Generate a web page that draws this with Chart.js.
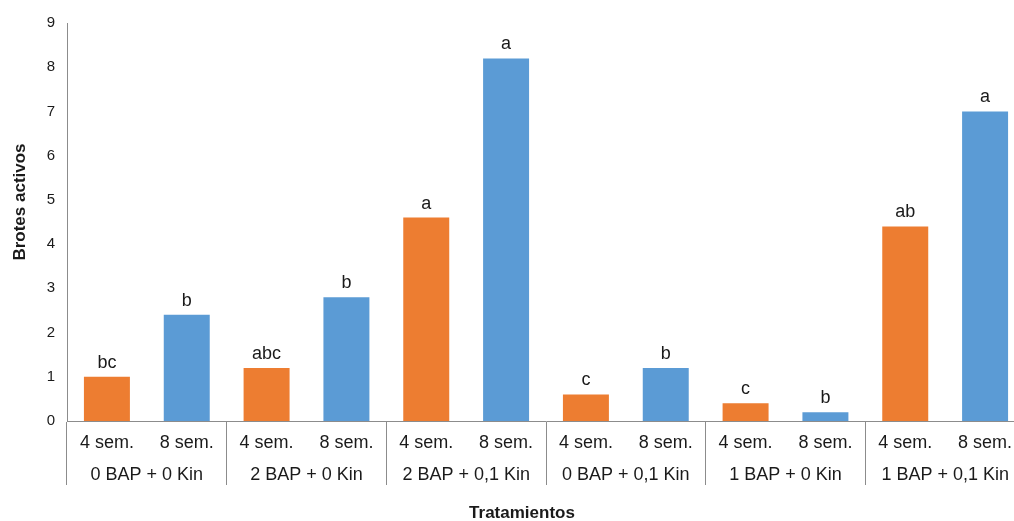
<!DOCTYPE html>
<html>
<head>
<meta charset="utf-8">
<script src="https://cdn.jsdelivr.net/npm/chart.js@4/dist/chart.umd.min.js"></script>
<style>
  html, body { margin: 0; padding: 0; background: #fff; overflow: hidden; }
  #wrap { width: 1026px; height: 521px; }
</style>
</head>
<body>
<div id="wrap"><canvas id="c" width="1026" height="521"></canvas></div>
<script>
// Tratamientos (mg/L de BAP y Kinetina)
const treatments = ['0 BAP + 0 Kin', '2 BAP + 0 Kin', '2 BAP + 0,1 Kin', '0 BAP + 0,1 Kin', '1 BAP + 0 Kin', '1 BAP + 0,1 Kin'];
const periods = ['4 sem.', '8 sem.'];

// Brotes activos promedio
const shoots4 = [1.0, 1.2, 4.6, 0.6, 0.4, 4.4];
const shoots8 = [2.4, 2.8, 8.2, 1.2, 0.2, 7.0];

// Letras de separación de medias
const letters4 = ['bc', 'abc', 'a', 'c', 'c', 'ab'];
const letters8 = ['b', 'b', 'a', 'b', 'b', 'a'];

const yTicks = [0, 1, 2, 3, 4, 5, 6, 7, 8, 9];

const FONT = '"Liberation Sans", Arial, sans-serif';
const TEXT = '#1a1a1a';
const AXIS = '#8c8c8c';

const annotate = {
  id: 'annotate',
  afterDatasetsDraw(chart) {
    const ctx = chart.ctx;
    const area = chart.chartArea;
    const letterSets = [letters4, letters8];
    ctx.save();
    // letters above each bar
    ctx.font = '18px ' + FONT;
    ctx.fillStyle = TEXT;
    ctx.textAlign = 'center';
    ctx.textBaseline = 'alphabetic';
    chart.data.datasets.forEach((ds, di) => {
      chart.getDatasetMeta(di).data.forEach((bar, i) => {
        ctx.fillText(letterSets[di][i], bar.x, bar.y - 9);
      });
    });
    // period row under each bar
    ctx.font = '18px ' + FONT;
    ctx.textBaseline = 'middle';
    chart.data.datasets.forEach((ds, di) => {
      chart.getDatasetMeta(di).data.forEach((bar) => {
        ctx.fillText(periods[di], bar.x, area.bottom + 22);
      });
    });
    // axis titles
    ctx.font = 'bold 17px ' + FONT;
    ctx.fillText('Tratamientos', 522, area.bottom + 92);
    ctx.translate(20, 202);
    ctx.rotate(-Math.PI / 2);
    ctx.fillText('Brotes activos', 0, 0);
    ctx.restore();
  }
};

new Chart(document.getElementById('c'), {
  type: 'bar',
  data: {
    labels: treatments,
    datasets: [
      { label: periods[0], data: shoots4, backgroundColor: '#ED7D31' },
      { label: periods[1], data: shoots8, backgroundColor: '#5B9BD5' }
    ]
  },
  options: {
    responsive: false,
    devicePixelRatio: 1,
    animation: false,
    categoryPercentage: 1.0,
    barPercentage: 0.576,
    layout: { padding: { top: 23, right: 1, left: 0, bottom: 0 } },
    plugins: { legend: { display: false }, tooltip: { enabled: false } },
    scales: {
      x: {
        grid: {
          offset: true,
          drawOnChartArea: false,
          drawTicks: true,
          tickLength: 64,
          color: AXIS,
          lineWidth: 1
        },
        border: { color: AXIS, width: 1 },
        ticks: {
          color: TEXT,
          font: { family: FONT, size: 18 },
          padding: -21,
          maxRotation: 0,
          autoSkip: false
        },
        afterFit(scale) { scale.height = 100; }
      },
      y: {
        min: 0,
        max: 9,
        afterBuildTicks(scale) { scale.ticks = yTicks.map(v => ({ value: v })); },
        grid: { display: false, drawTicks: false },
        border: { color: AXIS, width: 1 },
        ticks: {
          color: TEXT,
          font: { family: FONT, size: 15 },
          padding: 12
        },
        afterFit(scale) { scale.width = 67; }
      }
    }
  },
  plugins: [annotate]
});
</script>
</body>
</html>
